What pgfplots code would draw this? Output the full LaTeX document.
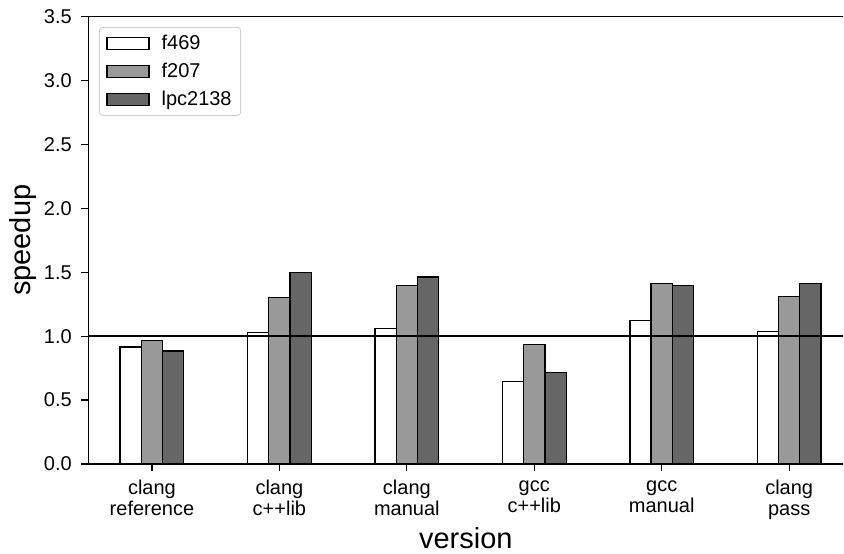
\documentclass[border=0pt]{standalone}
\usepackage{fontspec}
\setmainfont{Liberation Sans}
\usepackage{pgfplots}
\pgfplotsset{compat=1.18}
\definecolor{gA}{HTML}{999999}
\definecolor{gB}{HTML}{666666}
\begin{document}
\begin{tikzpicture}
\begin{axis}[
  at={(0,0)}, anchor=south west,
  scale only axis,
  width=755.7pt, height=447.6pt,
  xmin=-0.5, xmax=5.425,
  ymin=0, ymax=3.5,
  axis x line*=box,
  axis y line*=left,
  axis line style={line width=1.3pt},
  ybar=0pt,
  bar width=0.1667,
  xtick={0,1,2,3,4,5},
  xticklabels={clang\\reference, clang\\c++lib, clang\\manual, gcc\\c++lib, gcc\\manual, clang\\pass},
  xticklabel style={align=center, font=\fontsize{20}{21}\selectfont, yshift=-6pt},
  ytick={0,0.5,1,1.5,2,2.5,3,3.5},
  yticklabel style={font=\fontsize{20}{23}\selectfont, xshift=-6pt},
  /pgf/number format/assume math mode=true,
  /pgf/number format/fixed, /pgf/number format/fixed zerofill, /pgf/number format/precision=1,
  tick align=outside,
  xtick pos=bottom, ytick pos=left,
  major tick length=7pt,
  tick style={line width=1.2pt, black},
  xlabel={version}, ylabel={speedup},
  every axis x label/.style={at={(axis description cs:0.5,0)}, anchor=base, yshift=-84.5pt, font=\fontsize{29}{33}\selectfont},
  every axis y label/.style={at={(axis description cs:0,0.5)}, xshift=-57.8pt, rotate=90, anchor=base, font=\fontsize{29}{33}\selectfont},
  legend style={at={(0.0142,0.977)}, anchor=north west, draw=black!18, line width=1pt,
    rounded corners=3pt, font=\fontsize{20}{23}\selectfont, inner xsep=7pt, inner ysep=6pt,
    row sep=8pt, cells={anchor=west}},
  legend image code/.code={\draw[#1, sharp corners, line width=1.2pt] (0pt,-6pt) rectangle (42pt,6pt);},
  legend cell align=left,
]
\addplot[draw=black, fill=white, line width=1.3pt] coordinates {(0,0.916) (1,1.031) (2,1.062) (3,0.647) (4,1.125) (5,1.038)};
\addlegendentry{\hspace{10pt}f469}
\addplot[draw=black, fill=gA, line width=1.3pt] coordinates {(0,0.968) (1,1.300) (2,1.399) (3,0.934) (4,1.410) (5,1.308)};
\addlegendentry{\hspace{10pt}f207}
\addplot[draw=black, fill=gB, line width=1.3pt] coordinates {(0,0.885) (1,1.496) (2,1.464) (3,0.713) (4,1.396) (5,1.412)};
\addlegendentry{\hspace{10pt}lpc2138}
\draw[line width=2.4pt] (axis cs:-0.5,1) -- (axis cs:5.425,1);
\end{axis}
\path[use as bounding box] (-88.3pt,-89.7pt) rectangle (755.7pt,464.3pt);
\end{tikzpicture}
\end{document}
